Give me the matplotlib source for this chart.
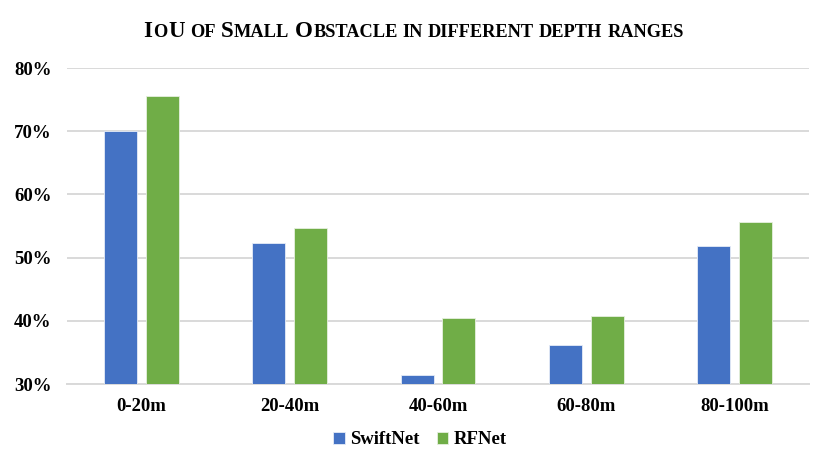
import matplotlib
matplotlib.use("Agg")
import numpy as np
import matplotlib.pyplot as plt
from matplotlib.transforms import IdentityTransform

# values (IoU, percent)
categories = ["0-20m", "20-40m", "40-60m", "60-80m", "80-100m"]
swiftnet = [70.0, 52.3, 31.5, 36.2, 51.9]
rfnet = [75.6, 54.7, 40.4, 40.8, 55.6]
yticks = [30, 40, 50, 60, 70, 80]

# title in small caps: (text, is_capital) pieces per word
title_words = [
    [("I", True), ("O", False), ("U", True)],
    [("OF", False)],
    [("S", True), ("MALL", False)],
    [("O", True), ("BSTACLE", False)],
    [("IN", False)],
    [("DIFFERENT", False)],
    [("DEPTH", False)],
    [("RANGES", False)],
]

blue = "#4472C4"
green = "#70AD47"
grid_col = "#D9D9D9"
serif = "Liberation Serif"

plt.rcParams["font.family"] = serif

fig = plt.figure(figsize=(8.3, 4.73), dpi=100)
ax = fig.add_axes([0.0807, 0.188, 0.894, 0.668])

x = np.arange(len(categories))
w = 0.222
off = 0.141
ax.bar(x - off, swiftnet, w, color=blue, edgecolor="#E6ECF7", linewidth=0.6,
       label="SwiftNet", zorder=3)
ax.bar(x + off, rfnet, w, color=green, edgecolor="#E6F0DF", linewidth=0.6,
       label="RFNet", zorder=3)

ax.set_ylim(30, 80)
ax.set_xlim(-0.5, len(categories) - 0.5)
ax.set_yticks(yticks)
ax.set_yticklabels([f"{v}%" for v in yticks])
ax.set_xticks(x)
ax.set_xticklabels(categories)
ax.yaxis.grid(True, color=grid_col, linewidth=1.4, zorder=0)
ax.set_axisbelow(True)
for s in ["top", "right", "left"]:
    ax.spines[s].set_visible(False)
ax.spines["bottom"].set_color(grid_col)
ax.spines["bottom"].set_linewidth(1.4)
ax.tick_params(axis="both", length=0, labelsize=13.5)
ax.tick_params(axis="y", pad=11)
ax.tick_params(axis="x", pad=10)
for lab in ax.get_xticklabels() + ax.get_yticklabels():
    lab.set_fontweight("bold")

fig.legend(loc="center", bbox_to_anchor=(0.506, 0.07), ncol=2, frameon=False,
           prop={"weight": "bold", "size": 13.5}, handlelength=0.6,
           handleheight=0.6, handletextpad=0.3, columnspacing=0.9)

# build the small-caps title piece by piece, in pixel coordinates
big_size, small_size = 16.5, 13.2
baseline = 436
renderer = fig.canvas.get_renderer()


def width_of(s, size):
    t = fig.text(0, 0, s, fontsize=size, fontweight="bold", transform=IdentityTransform())
    wd = t.get_window_extent(renderer).width
    t.remove()
    return wd


space = 1.5 * (width_of("A A", small_size) - width_of("AA", small_size))
texts = []
cur = 0.0
for i, word in enumerate(title_words):
    if i > 0:
        cur += space
    for s, cap in word:
        size = big_size if cap else small_size
        t = fig.text(cur, baseline, s, fontsize=size, fontweight="bold",
                     va="baseline", ha="left", transform=IdentityTransform())
        cur += t.get_window_extent(renderer).width + 1
        texts.append(t)
shift = 414 - cur / 2
for t in texts:
    px, py = t.get_position()
    t.set_position((px + shift, py))

fig.savefig("out.png", dpi=100)
